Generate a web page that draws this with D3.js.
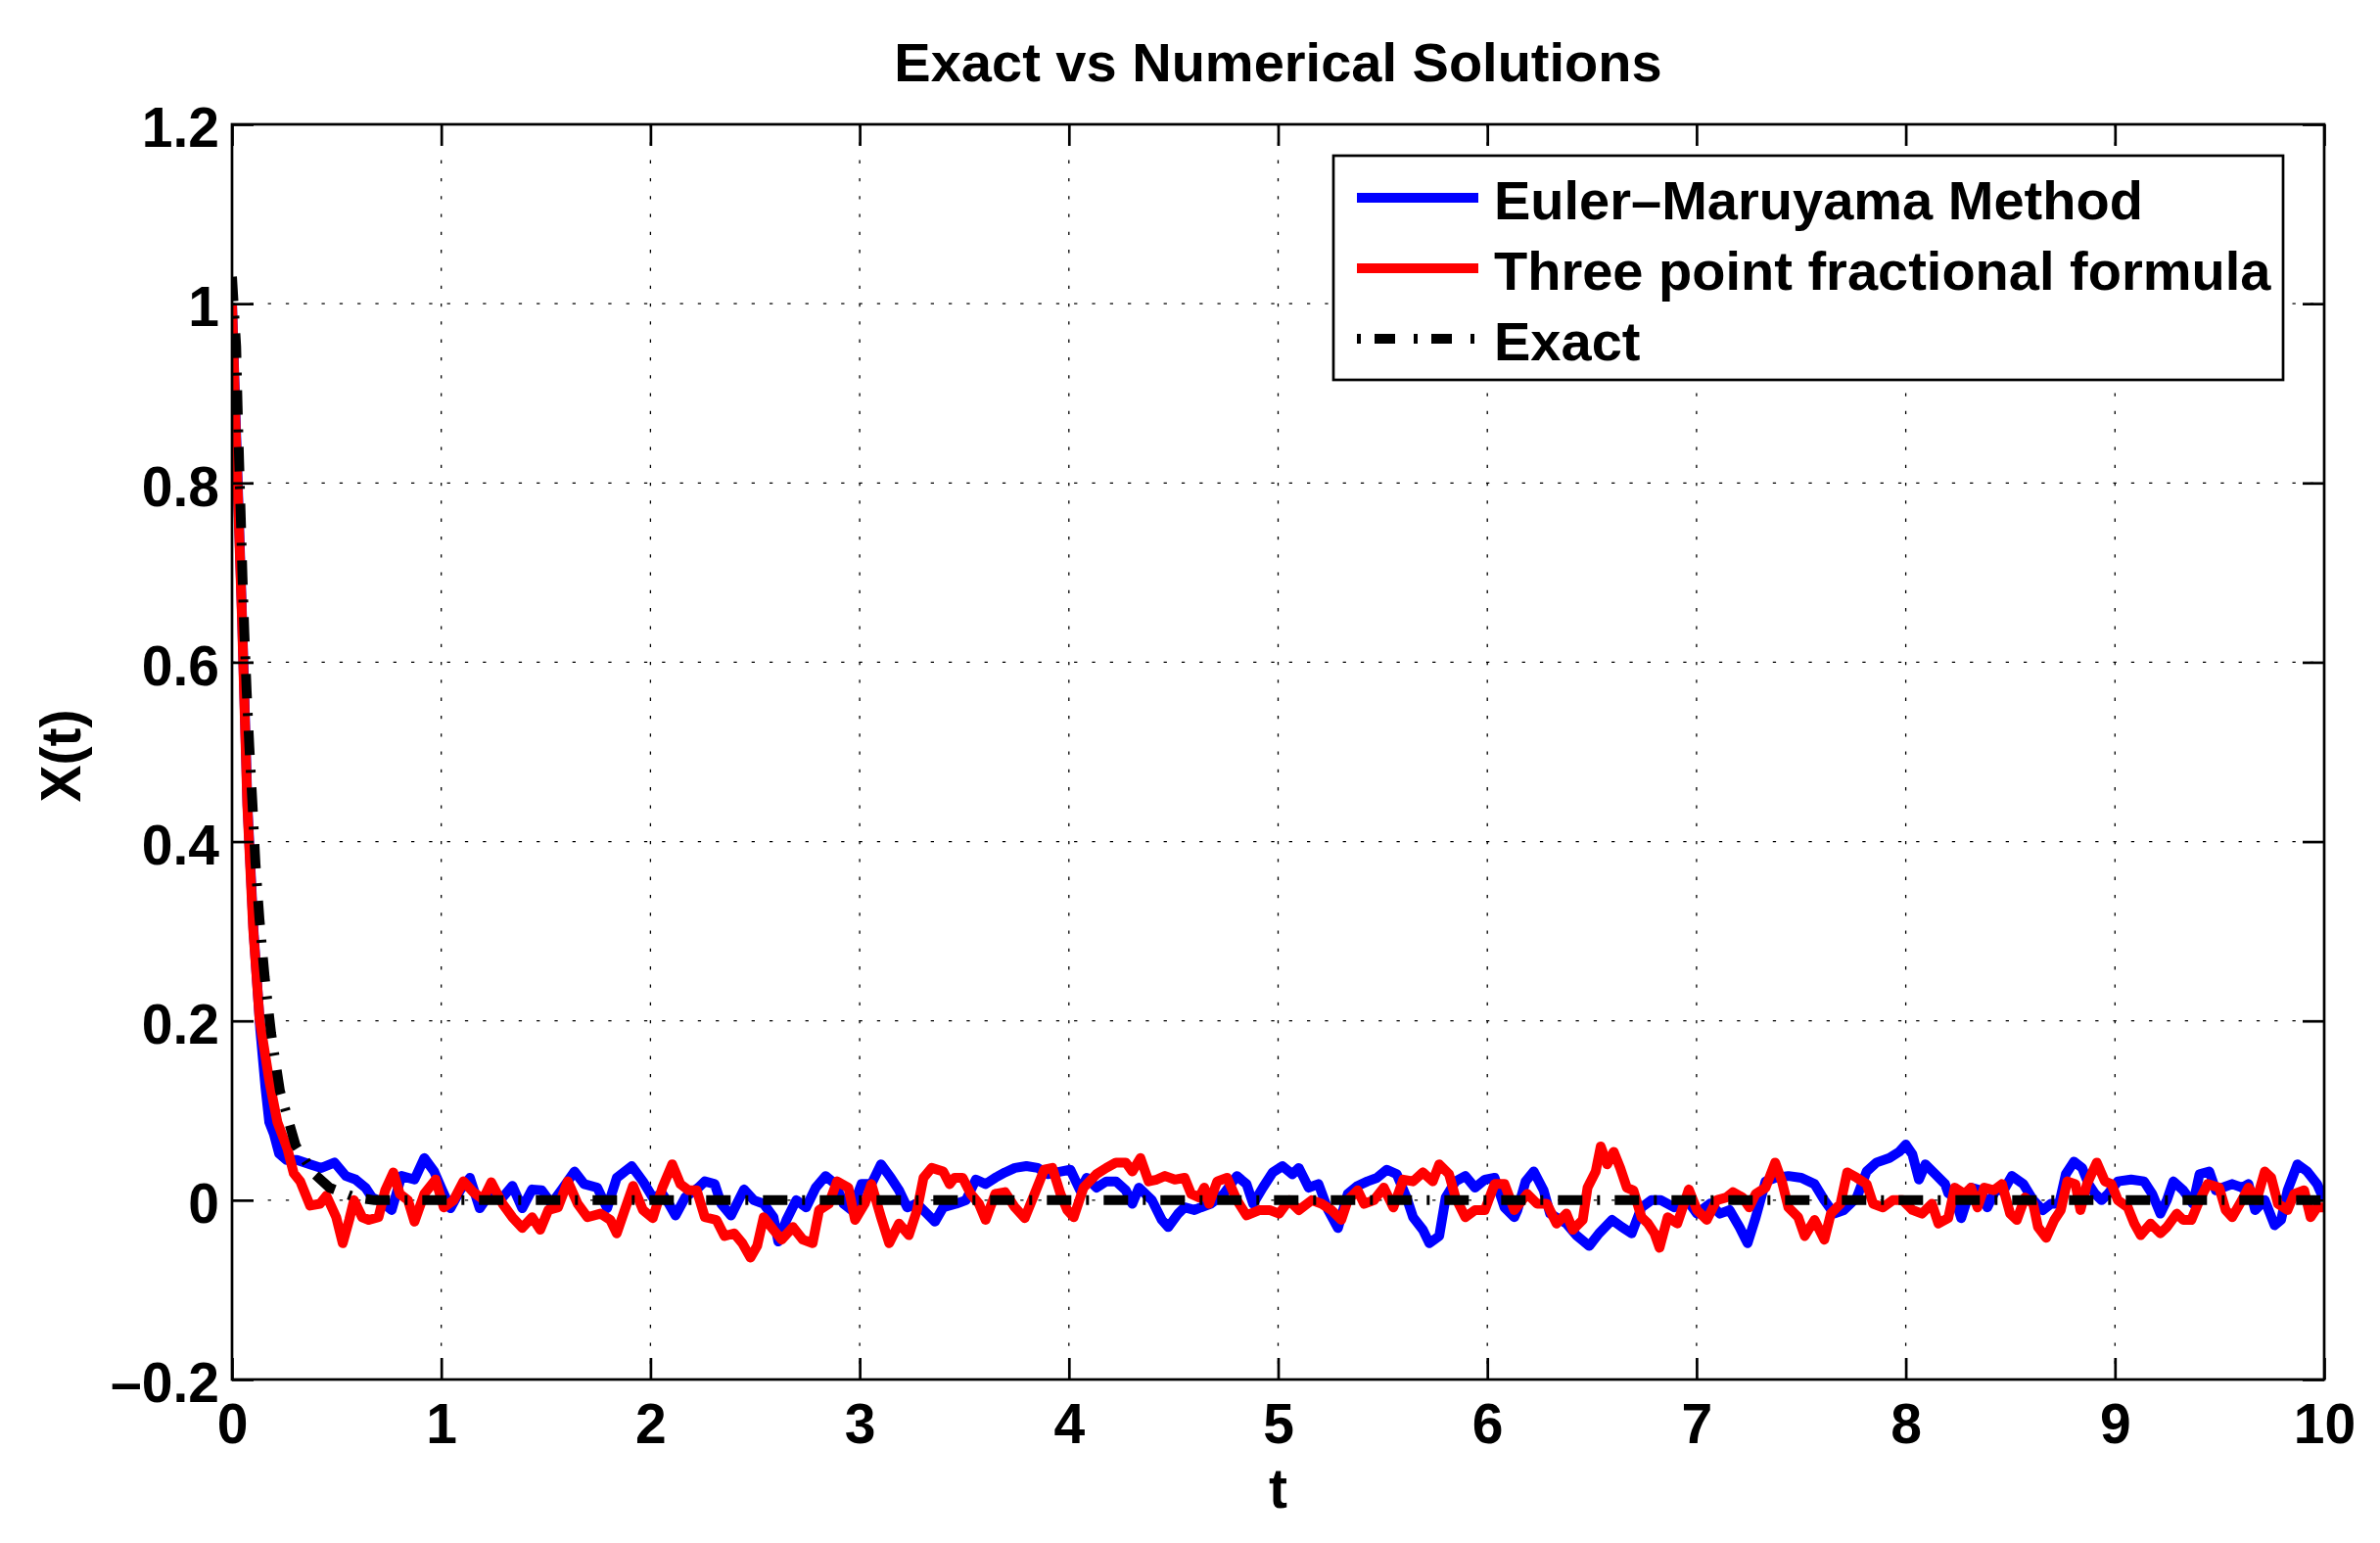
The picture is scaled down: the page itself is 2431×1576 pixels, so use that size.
<!DOCTYPE html>
<html>
<head>
<meta charset="utf-8">
<script src="https://cdn.jsdelivr.net/npm/d3@7"></script>
<style>
  body { margin: 0; background: #fff; }
  text { font-family: "Liberation Sans", Arial, Helvetica, sans-serif; font-weight: bold; fill: #000; }
</style>
</head>
<body>
<div id="chart"></div>
<script>
var W = 2431, H = 1576;
var axL = 237, axR = 2374, axT = 127, axB = 1409;

var xTicks = [0,1,2,3,4,5,6,7,8,9,10];
var yTicks = [-0.2,0,0.2,0.4,0.6,0.8,1,1.2];
var legendLabels = ["Euler\u2013Maruyama Method", "Three point fractional formula", "Exact"];

// [t, X(t)]
var eulerPts = [[0,1.0],[0.019,0.86],[0.048,0.65],[0.074,0.44],[0.103,0.30],[0.135,0.19],[0.16,0.125],[0.178,0.087],[0.2,0.074],[0.225,0.052],[0.26,0.045],
[0.31,0.045],[0.373,0.04],[0.427,0.036],[0.49,0.042],[0.544,0.027],[0.591,0.023],[0.638,0.014],[0.669,0.003],[0.716,-0.002],[0.763,-0.011],[0.81,0.027],[0.872,0.023],[0.919,0.047],[0.966,0.032],[1.005,0.011],[1.044,-0.009],[1.09,0.011],[1.137,0.025],[1.184,-0.009],[1.231,0.007],[1.293,0.003],[1.34,0.016],[1.387,-0.009],[1.434,0.012],[1.48,0.011],[1.527,-0.004],[1.574,0.011],[1.637,0.032],[1.683,0.018],[1.746,0.014],[1.793,-0.009],[1.839,0.025],[1.91,0.038],[1.964,0.021],[2.011,0.003],
[2.057,0.007],[2.088,-0.004],[2.12,-0.017],[2.166,0.003],[2.229,0.014],[2.26,0.021],[2.307,0.018],[2.338,-0.004],[2.385,-0.017],[2.447,0.012],[2.494,0],[2.541,-0.004],[2.588,-0.019],[2.611,-0.046],[2.65,-0.022],[2.697,0],[2.744,-0.008],[2.79,0.014],[2.837,0.027],[2.884,0.018],[2.923,-0.004],[2.962,-0.011],[3.009,0.018],[3.056,0.018],[3.102,0.04],[3.149,0.025],[3.188,0.011],[3.227,-0.008],[3.274,-0.004],[3.321,-0.015],[3.36,-0.024],[3.399,-0.008],[3.461,-0.004],[3.508,0],[3.555,0.023],[3.602,0.018],[3.648,0.025],[3.695,0.031],[3.742,0.036],[3.797,0.038],[3.851,0.036],[3.898,0.029],[3.96,0.032],[4.007,0.034],[4.054,0.011],
[4.085,0.025],[4.132,0.014],[4.179,0.021],[4.225,0.021],[4.272,0.011],[4.303,-0.004],[4.335,0.014],[4.397,0],[4.444,-0.022],[4.475,-0.03],[4.522,-0.015],[4.553,-0.008],[4.6,-0.011],[4.631,-0.008],[4.678,-0.004],[4.74,0.007],[4.803,0.027],[4.849,0.018],[4.881,-0.004],[4.927,0.014],[4.974,0.031],[5.021,0.038],[5.068,0.029],[5.099,0.036],[5.146,0.014],[5.193,0.018],[5.239,-0.011],[5.286,-0.031],[5.333,0.007],[5.38,0.016],[5.427,0.021],[5.473,0.025],[5.52,0.034],[5.567,0.029],[5.614,0.003],[5.645,-0.019],[5.692,-0.033],[5.723,-0.048],[5.77,-0.04],[5.801,0.003],[5.848,0.021],[5.895,0.027],[5.941,0.014],[5.988,0.023],[6.035,0.025],[6.082,-0.008],[6.129,-0.019],
[6.144,-0.011],[6.183,0.021],[6.222,0.032],[6.269,0.011],[6.3,-0.015],[6.378,-0.026],[6.425,-0.039],[6.487,-0.051],[6.534,-0.037],[6.596,-0.022],[6.643,-0.03],[6.69,-0.037],[6.737,-0.008],[6.784,0],[6.83,0],[6.893,-0.008],[6.955,0],[7.002,-0.015],[7.064,-0.004],[7.111,-0.015],[7.158,-0.011],[7.205,-0.03],[7.244,-0.048],[7.283,-0.019],[7.33,0.021],[7.376,0.025],[7.439,0.027],[7.501,0.025],[7.564,0.018],[7.611,0],[7.657,-0.015],[7.704,-0.011],[7.766,0.003],[7.813,0.032],[7.86,0.042],[7.922,0.047],[7.969,0.054],[8.0,0.062],[8.032,0.051],[8.063,0.023],[8.094,0.04],[8.141,0.029],[8.188,0.018],
[8.203,0.008],[8.234,0.003],[8.265,-0.02],[8.312,0.014],[8.359,0.011],[8.39,-0.008],[8.429,0.011],[8.468,0.011],[8.507,0.027],[8.562,0.018],[8.609,0],[8.655,-0.011],[8.694,-0.004],[8.733,-0.004],[8.765,0.029],[8.804,0.043],[8.843,0.036],[8.874,0.018],[8.905,0.007],[8.936,0],[8.967,0.007],[9.014,0.021],[9.077,0.023],[9.139,0.021],[9.178,0.007],[9.217,-0.015],[9.248,0],[9.279,0.021],[9.326,0.011],[9.373,-0.004],[9.404,0.029],[9.451,0.032],[9.482,0.011],[9.514,0.014],[9.56,0.018],[9.607,0.014],[9.638,0.018],[9.67,-0.011],[9.716,0],[9.763,-0.028],[9.794,-0.022],[9.825,0.011],[9.872,0.04],[9.919,0.032],[9.966,0.018],[10,0]];

var threePts = [[0,1.0],[0.019,0.85],[0.048,0.645],[0.073,0.44],[0.101,0.303],[0.132,0.201],[0.179,0.132],[0.217,0.087],[0.264,0.058],[0.295,0.03],[0.326,0.021],[0.373,-0.006],[0.42,-0.004],[0.451,0.005],[0.498,-0.019],[0.529,-0.048],[0.56,-0.022],[0.583,0],[0.622,-0.019],[0.654,-0.022],[0.7,-0.019],[0.732,0.011],[0.771,0.031],[0.802,0.007],[0.841,0],[0.872,-0.024],[0.919,0.007],[0.973,0.023],[1.012,-0.008],[1.059,0],[1.106,0.021],[1.153,0.009],[1.2,0.001],[1.239,0.02],[1.293,-0.004],[1.34,-0.019],[1.387,-0.031],[1.434,-0.019],[1.473,-0.033],[1.512,-0.011],[1.558,-0.008],[1.605,0.021],[1.652,-0.004],[1.699,-0.019],[1.761,-0.015],[1.808,-0.022],[1.839,-0.037],[1.871,-0.015],[1.917,0.016],[1.964,-0.011],[2.011,-0.02],
[2.057,0.014],[2.104,0.04],[2.143,0.018],[2.182,0.011],[2.221,0.011],[2.26,-0.019],[2.315,-0.022],[2.354,-0.04],[2.4,-0.037],[2.439,-0.048],[2.478,-0.064],[2.51,-0.051],[2.541,-0.019],[2.588,-0.033],[2.627,-0.044],[2.681,-0.03],[2.728,-0.044],[2.775,-0.048],[2.806,-0.011],[2.853,-0.004],[2.892,0.021],[2.946,0.014],[2.978,-0.022],[3.024,-0.004],[3.056,0.018],[3.102,-0.019],[3.141,-0.048],[3.188,-0.026],[3.235,-0.039],[3.274,-0.011],[3.305,0.025],[3.344,0.036],[3.399,0.032],[3.43,0.018],[3.453,0.025],[3.492,0.025],[3.531,0.007],[3.57,-0.004],[3.602,-0.022],[3.648,0.007],[3.695,0.009],[3.742,-0.008],[3.789,-0.02],[3.836,0.007],[3.882,0.034],[3.921,0.036],[3.96,0.007],[3.992,-0.011],[4.023,-0.019],[4.07,0.014],
[4.132,0.029],[4.179,0.036],[4.225,0.042],[4.272,0.042],[4.303,0.032],[4.342,0.047],[4.381,0.021],[4.42,0.023],[4.459,0.027],[4.506,0.023],[4.553,0.025],[4.584,0.007],[4.623,0.003],[4.647,0.014],[4.67,-0.004],[4.709,0.021],[4.756,0.025],[4.803,0],[4.849,-0.017],[4.912,-0.011],[4.959,-0.011],[5.005,-0.015],[5.052,0],[5.099,-0.011],[5.161,0],[5.208,-0.004],[5.255,-0.011],[5.302,-0.022],[5.333,0],[5.38,0.011],[5.411,-0.004],[5.458,0],[5.505,0.014],[5.551,-0.008],[5.598,0.023],[5.645,0.021],[5.692,0.031],[5.739,0.021],[5.77,0.04],[5.817,0.029],[5.848,0.003],[5.895,-0.019],[5.941,-0.011],[5.988,-0.011],[6.035,0.018],[6.082,0.018],[6.129,-0.011],
[6.191,0.007],[6.238,-0.004],[6.284,-0.004],[6.331,-0.026],[6.378,-0.015],[6.409,-0.033],[6.456,-0.022],[6.479,0.014],[6.518,0.032],[6.542,0.06],[6.573,0.04],[6.604,0.054],[6.635,0.036],[6.667,0.014],[6.698,0.011],[6.737,-0.019],[6.768,-0.026],[6.799,-0.037],[6.823,-0.053],[6.862,-0.019],[6.908,-0.026],[6.94,-0.004],[6.963,0.012],[7.002,-0.011],[7.049,-0.022],[7.096,0],[7.142,0.003],[7.174,0.009],[7.22,0.003],[7.252,-0.008],[7.283,0.007],[7.33,0.014],[7.376,0.042],[7.408,0.021],[7.439,-0.008],[7.486,-0.019],[7.517,-0.04],[7.564,-0.022],[7.611,-0.044],[7.642,-0.015],[7.688,-0.004],[7.72,0.031],[7.766,0.025],[7.813,0.018],[7.844,-0.004],[7.891,-0.008],[7.938,0],[7.985,0],[8.032,-0.011],[8.078,-0.015],[8.125,-0.004],[8.156,-0.026],
[8.203,-0.02],[8.234,0.014],[8.281,0.007],[8.312,0.014],[8.343,-0.008],[8.375,0.014],[8.421,0.011],[8.46,0.018],[8.499,-0.015],[8.531,-0.022],[8.57,0.003],[8.609,-0.004],[8.632,-0.03],[8.671,-0.042],[8.71,-0.022],[8.741,-0.011],[8.772,0.021],[8.811,0.018],[8.835,-0.011],[8.866,0.018],[8.913,0.042],[8.952,0.021],[8.983,0.018],[9.014,0],[9.061,-0.008],[9.092,-0.026],[9.123,-0.039],[9.17,-0.026],[9.217,-0.037],[9.248,-0.03],[9.295,-0.015],[9.326,-0.022],[9.365,-0.022],[9.404,0],[9.443,0.018],[9.498,0.014],[9.529,-0.011],[9.56,-0.019],[9.607,0],[9.638,0.014],[9.677,0],[9.716,0.032],[9.747,0.025],[9.779,-0.004],[9.825,-0.011],[9.857,0.007],[9.904,0.011],[9.935,-0.019],[9.966,-0.008],[10,-0.008]];

var exactPts = [[0,1.03],[0.02,0.952],[0.0265,0.887],[0.034,0.824],[0.042,0.761],[0.05,0.696],[0.059,0.633],[0.07,0.568],[0.083,0.505],[0.098,0.441],[0.112,0.376],[0.131,0.314],[0.156,0.249],[0.187,0.186],[0.229,0.122],[0.304,0.061],[0.39,0.03],[0.466,0.014],[0.591,0.003],[0.68,0],[10,0]];

var svg = d3.select("#chart")
  .append("svg")
  .attr("width", W)
  .attr("height", H);

svg.append("rect").attr("width", W).attr("height", H).attr("fill", "#fff");

var x = d3.scaleLinear().domain([0, 10]).range([axL, axR]);
var y = d3.scaleLinear().domain([-0.2, 1.2]).range([axB, axT]);

var yFmt = function(d){
  var v = Math.abs(+d.toFixed(1));
  return (d < 0 ? "\u2013" : "") + v;
};

// grid
var grid = svg.append("g")
  .attr("stroke", "#000")
  .attr("stroke-width", 1.3)
  .attr("stroke-dasharray", "3.3,15");
grid.selectAll(".gx")
  .data(xTicks.filter(function(d){ return d > 0 && d < 10; }))
  .enter().append("line")
  .attr("x1", function(d){ return x(d); }).attr("x2", function(d){ return x(d); })
  .attr("y1", axT).attr("y2", axB);
grid.selectAll(".gy")
  .data(yTicks.filter(function(d){ return d > -0.2 && d < 1.2; }))
  .enter().append("line")
  .attr("y1", function(d){ return y(d); }).attr("y2", function(d){ return y(d); })
  .attr("x1", axL).attr("x2", axR);

// lines
svg.append("clipPath").attr("id", "plotclip")
  .append("rect").attr("x", axL).attr("y", axT)
  .attr("width", axR - axL).attr("height", axB - axT);

var line = d3.line()
  .x(function(d){ return x(d[0]); })
  .y(function(d){ return y(d[1]); });

var plot = svg.append("g").attr("clip-path", "url(#plotclip)");
plot.append("path").datum(eulerPts)
  .attr("d", line).attr("fill", "none")
  .attr("stroke", "#0000ff").attr("stroke-width", 10)
  .attr("stroke-linejoin", "round");
plot.append("path").datum(threePts)
  .attr("d", line).attr("fill", "none")
  .attr("stroke", "#ff0000").attr("stroke-width", 10)
  .attr("stroke-linejoin", "round");
plot.append("path").datum(exactPts)
  .attr("d", line).attr("fill", "none")
  .attr("stroke", "#000").attr("stroke-width", 10)
  .attr("stroke-dasharray", "25,15,3,15");

// axes
function styleAxis(g){
  g.select(".domain").remove();
  g.selectAll(".tick line").attr("stroke", "#000").attr("stroke-width", 2.7);
  g.selectAll(".tick text")
    .style("font-family", "'Liberation Sans', Arial, Helvetica, sans-serif")
    .style("font-weight", "bold")
    .attr("font-size", 57);
}

svg.append("g")
  .attr("transform", "translate(0," + axB + ")")
  .call(d3.axisBottom(x).tickValues(xTicks).tickSize(-22).tickPadding(25))
  .call(styleAxis);
svg.append("g")
  .attr("transform", "translate(0," + axT + ")")
  .call(d3.axisTop(x).tickValues(xTicks).tickSize(-22).tickFormat(""))
  .call(styleAxis);
svg.append("g")
  .attr("transform", "translate(" + axL + ",0)")
  .call(d3.axisLeft(y).tickValues(yTicks).tickSize(-22).tickPadding(13).tickFormat(yFmt))
  .call(styleAxis)
  .selectAll(".tick text").attr("dy", "0.4em");
svg.append("g")
  .attr("transform", "translate(" + axR + ",0)")
  .call(d3.axisRight(y).tickValues(yTicks).tickSize(-22).tickFormat(""))
  .call(styleAxis);

svg.append("rect")
  .attr("x", axL).attr("y", axT)
  .attr("width", axR - axL).attr("height", axB - axT)
  .attr("fill", "none").attr("stroke", "#000").attr("stroke-width", 2.7);

// labels
svg.append("text")
  .attr("x", (axL + axR) / 2).attr("y", 83)
  .attr("text-anchor", "middle").attr("font-size", 56)
  .text("Exact vs Numerical Solutions");
svg.append("text")
  .attr("x", (axL + axR) / 2).attr("y", 1540)
  .attr("text-anchor", "middle").attr("font-size", 57)
  .text("t");
svg.append("text")
  .attr("transform", "translate(82,772) rotate(-90)")
  .attr("text-anchor", "middle").attr("font-size", 57)
  .text("X(t)");

// legend
var legend = svg.append("g");
legend.append("rect")
  .attr("x", 1362).attr("y", 159)
  .attr("width", 2332 - 1362).attr("height", 388 - 159)
  .attr("fill", "#fff").attr("stroke", "#000").attr("stroke-width", 2.7);

var legColors = ["#0000ff", "#ff0000", "#000"];
var legDash = [null, null, "4,14,21,19"];
legendLabels.forEach(function(lab, i){
  var ly = 202 + i * 72;
  legend.append("line")
    .attr("x1", 1386).attr("x2", 1510)
    .attr("y1", ly).attr("y2", ly)
    .attr("stroke", legColors[i]).attr("stroke-width", 10)
    .attr("stroke-dasharray", legDash[i]);
  legend.append("text")
    .attr("x", 1526).attr("y", ly + 22)
    .attr("font-size", 56)
    .text(lab);
});
</script>
</body>
</html>
